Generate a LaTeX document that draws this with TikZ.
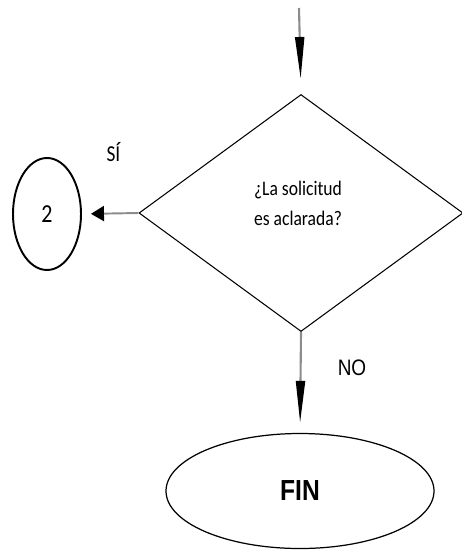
\documentclass[tikz,border=0pt]{standalone}
\usepackage{fontspec}
\setmainfont{Carlito}
\newfontfamily\arialfont{Liberation Sans}
\usetikzlibrary{arrows.meta, positioning, shapes.geometric}
\definecolor{linegray}{HTML}{8C8C8C}
\newcommand{\talltext}[1]{\scalebox{1}[1.18]{#1}}

\begin{document}
\begin{tikzpicture}[
    decision/.style={draw, diamond, line width=0.6pt, minimum width=6.48cm, minimum height=4.74cm, inner sep=0pt},
    question/.style={align=center, inner sep=0pt, font=\fontsize{10}{17}\selectfont},
    connector/.style={draw, ellipse, line width=1.1pt, minimum width=1.36cm, minimum height=2.24cm, inner sep=0pt, font=\fontsize{12.5}{14}\selectfont},
    terminal/.style={draw, ellipse, line width=0.7pt, minimum width=5.36cm, minimum height=2.30cm, inner sep=0pt, font=\arialfont\bfseries\fontsize{14}{16}\selectfont},
    downarrow/.style={-{Triangle[length=8.4mm, width=1.8mm, color=black]}, line width=1.2pt, color=linegray},
    sidearrow/.style={-{Triangle[length=2.6mm, width=3.0mm, color=black]}, line width=1.1pt, color=linegray}
]
\useasboundingbox (0,0) rectangle (9.24,-11.0);

\coordinate (start) at (5.98,-0.16);
\node[decision] (ask) at (6.02,-4.26) {};
\node[question] (asktext) at ([xshift=-0.06cm, yshift=0.2cm]ask.center) {\talltext{¿La solicitud}\\\talltext{es aclarada?}};
\node[connector] (two) at (0.94,-4.28) {\talltext{2}};
\node[terminal] (fin) at (6.0,-9.82) {\talltext{FIN}};

\node[font=\fontsize{11}{13}\selectfont] (yes) at (2.27,-3.04) {\talltext{SÍ}};
\node[font=\arialfont\fontsize{10.8}{12}\selectfont] (no) at (7.04,-7.36) {\talltext{NO}};

\draw[downarrow, shorten >=0.3cm] (start) -- (ask.north);
\draw[sidearrow, shorten >=0.18cm] (ask.west) -- (two.east);
\draw[downarrow, shorten >=0.2cm] (ask.south) -- (fin.north);
\end{tikzpicture}
\end{document}
